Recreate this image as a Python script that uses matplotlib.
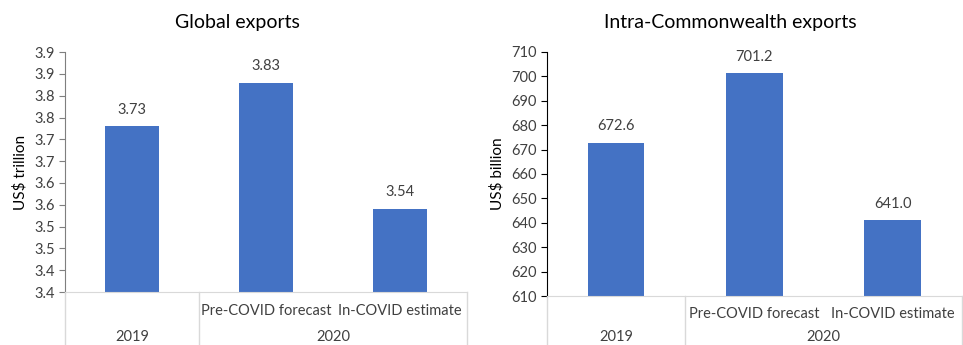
import matplotlib
matplotlib.use("Agg")
import matplotlib.pyplot as plt
from matplotlib.transforms import blended_transform_factory

plt.rcParams['font.family'] = ['Lato', 'DejaVu Sans']

# Data
global_vals = [3.73, 3.83, 3.54]
global_ticks = [3.35, 3.40, 3.45, 3.50, 3.55, 3.60, 3.65, 3.70, 3.75, 3.80, 3.85, 3.90]
global_ticklabels = ['3.4', '3.4', '3.5', '3.5', '3.6', '3.6', '3.7', '3.7', '3.8', '3.8', '3.9', '3.9']
global_labels = ['3.73', '3.83', '3.54']

cw_vals = [672.6, 701.2, 641.0]
cw_ticks = list(range(610, 711, 10))
cw_labels = ['672.6', '701.2', '641.0']

sub_cats = ['', 'Pre-COVID forecast', 'In-COVID estimate']
years = ['2019', '2020']

bar_color = '#4472C4'
text_color = '#404040'
grid_color = '#d9d9d9'

W, H = 963, 345
fig = plt.figure(figsize=(W / 100, H / 100), dpi=100)
ax1 = fig.add_axes([0.0675, 0.1536, 0.4175, 0.6954])
ax2 = fig.add_axes([0.5677, 0.1413, 0.4313, 0.7088])


def draw(ax, vals, labels, ticks, ticklabels, ylim, title, title_x, ylabel,
         spine_color, width, sub_y, year_y):
    x = range(len(vals))
    ax.bar(x, vals, width=width, color=bar_color, zorder=2)
    ax.set_xlim(-0.5, 2.5)
    ax.set_ylim(*ylim)
    ax.set_yticks(ticks)
    ax.set_yticklabels(ticklabels)
    ax.set_xticks([])
    for s in ['top', 'right']:
        ax.spines[s].set_visible(False)
    ax.spines['bottom'].set_color(grid_color)
    ax.spines['left'].set_color(spine_color)
    ax.tick_params(axis='y', length=4, color=spine_color, labelsize=10.5,
                   labelcolor=text_color, pad=3)
    for xi, v, lab in zip(x, vals, labels):
        ax.annotate(lab, (xi, v), xytext=(0, 7), textcoords='offset points',
                    ha='center', va='bottom', fontsize=10.5, color=text_color)
    ax.set_title(title, fontsize=14, color='black', pad=17, x=title_x)
    ax.set_ylabel(ylabel, fontsize=11, color='black', labelpad=5)

    # category box below the axis
    tr = ax.get_xaxis_transform()
    for xv in [-0.5, 0.5, 2.5]:
        ax.plot([xv, xv], [0, -0.4], transform=tr, color=grid_color, lw=1, clip_on=False)
    trf = blended_transform_factory(ax.transData, fig.transFigure)
    for xi, lab in zip(x, sub_cats):
        ax.text(xi, 1 - sub_y / H, lab, transform=trf, ha='center', va='center',
                fontsize=10.5, color=text_color)
    ax.text(0, 1 - year_y / H, years[0], transform=trf, ha='center', va='center',
            fontsize=10.5, color=text_color)
    ax.text(1.5, 1 - year_y / H, years[1], transform=trf, ha='center', va='center',
            fontsize=10.5, color=text_color)


draw(ax1, global_vals, global_labels, global_ticks, global_ticklabels,
     (3.35, 3.90), 'Global exports', 0.428, 'US$ trillion', '#7f7f7f', 0.40, 311, 337)
draw(ax2, cw_vals, cw_labels, cw_ticks, [str(t) for t in cw_ticks],
     (610, 710), 'Intra-Commonwealth exports', 0.443, 'US$ billion', '#000000',
     0.41, 314, 337)

fig.savefig('out.png', dpi=100)
